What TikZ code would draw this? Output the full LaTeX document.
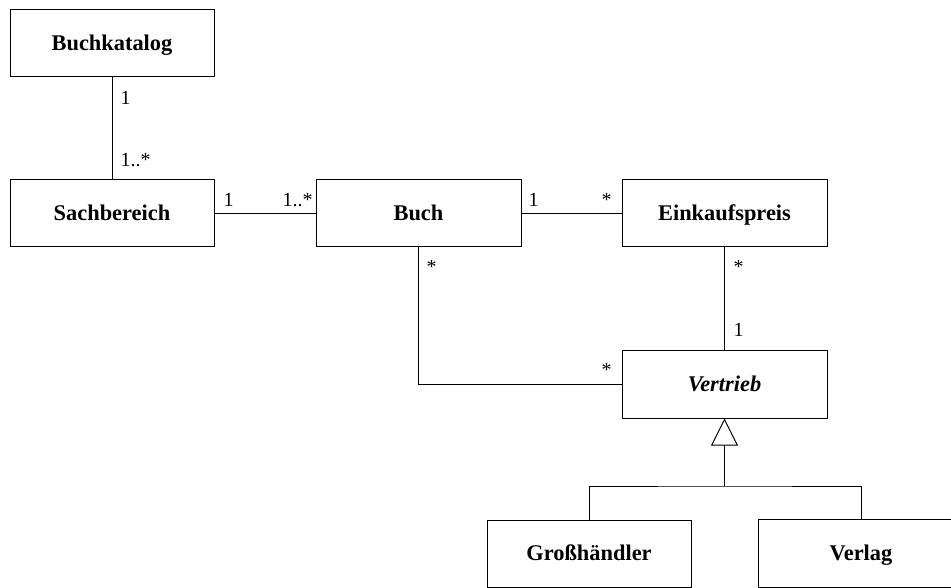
\documentclass[tikz,border=0pt]{standalone}
\usepackage{fontspec}
\setmainfont{Liberation Serif}
\usetikzlibrary{arrows.meta}
\begin{document}
\begin{tikzpicture}[x=1pt,y=-1pt,line width=1pt,
  cls/.style={draw,rectangle,minimum width=204pt,minimum height=67pt,inner sep=0pt,
    text height=14.8pt,text depth=0pt,
    font=\fontsize{22.4}{26}\selectfont\bfseries},
  mult/.style={inner sep=0pt,font=\fontsize{20}{24}\selectfont},
  inherit/.style={-{Triangle[open,length=27pt,width=27pt]}}]
\useasboundingbox (0,0) rectangle (951,588);
\node[cls] (katalog) at (112,43.5) {Buchkatalog};
\node[cls] (sach) at (112,213.5) {Sachbereich};
\node[cls,minimum width=205pt] (buch) at (418.5,213.5) {Buch};
\node[cls,minimum width=205pt] (preis) at (724.5,213.5) {Einkaufspreis};
\node[cls,minimum width=205pt,minimum height=68pt] (vertrieb) at (724.5,384) {\itshape Vertrieb};
\node[cls] (gross) at (589,553.5) {Großhändler};
\node[cls,draw=none] (verlag) at (861,553.5) {Verlag};
\draw (verlag.north west) ++(250,0) -- (verlag.north west) -- (verlag.south west) -- ++(250,0);
\coordinate (junction) at (724.5,486);
\draw (katalog) -- (sach);
\draw (sach) -- (buch);
\draw (buch) -- (preis);
\draw (preis) -- (vertrieb);
\draw (buch.south) |- (vertrieb.west);
\draw (gross.north) |- (junction) -| (verlag.north);
\draw[inherit] (junction) -- (vertrieb.south);
\node[mult,anchor=base west] (m1) at (120,105) {1};
\node[mult,anchor=base west] (m2) at (120,167) {1..*};
\node[mult,anchor=base west] (m3) at (223,207) {1};
\node[mult,anchor=base east] (m4) at (313,207) {1..*};
\node[mult,anchor=base west] (m5) at (528,207) {1};
\node[mult,anchor=base east] (m6) at (612,207) {*};
\node[mult,anchor=base west] (m7) at (426,274) {*};
\node[mult,anchor=base west] (m8) at (733,274) {*};
\node[mult,anchor=base west] (m9) at (733,336) {1};
\node[mult,anchor=base east] (m10) at (612,376) {*};
\end{tikzpicture}
\end{document}
